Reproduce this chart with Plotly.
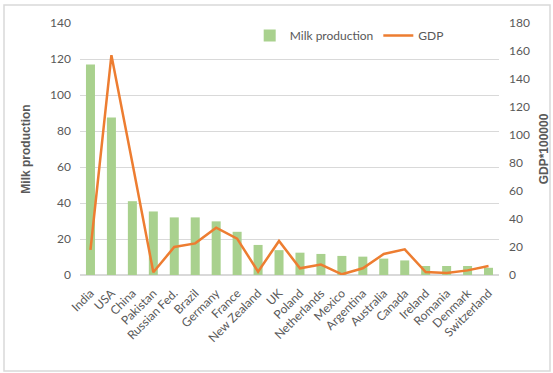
import plotly.graph_objects as go

countries = ["India", "USA", "China", "Pakistan", "Russian Fed.", "Brazil", "Germany",
             "France", "New Zealand", "UK", "Poland", "Netherlands", "Mexico", "Argentina",
             "Australia", "Canada", "Ireland", "Romania", "Denmark", "Switzerland"]
milk = [117, 87.5, 41, 35.3, 32, 32, 29.8, 24, 16.7, 13.8, 12.4, 11.7, 10.6, 10.2,
        9.1, 8.1, 5, 5, 5, 4]
gdp = [18, 157, 80, 2, 20, 22.6, 33.8, 26, 2.4, 24.3, 4.8, 7.4, 0.5, 4.8,
       15, 18.3, 2.1, 1.4, 3.3, 6.4]

left_ticks = list(range(0, 141, 20))
right_ticks = list(range(0, 181, 20))

font_main = "Lato, Open Sans, sans-serif"
font_title = "Liberation Sans, Arial, sans-serif"
grey = "#595959"

fig = go.Figure()
fig.add_trace(go.Bar(
    x=countries, y=milk, name="Milk production",
    marker=dict(color="#A9D18E", line=dict(width=0)),
    yaxis="y",
))
fig.add_trace(go.Scatter(
    x=countries, y=gdp, name="GDP", mode="lines",
    line=dict(color="#ED7D31", width=2.5),
    yaxis="y2",
))

fig.update_layout(
    width=553, height=373,
    margin=dict(l=80, r=54, t=23, b=98),
    paper_bgcolor="white", plot_bgcolor="white",
    font=dict(family=font_main, size=12, color=grey),
    bargap=0.57,
    showlegend=True,
    legend=dict(
        orientation="h", x=0.405, y=0.95, xanchor="left", yanchor="middle",
        bgcolor="rgba(0,0,0,0)", font=dict(family=font_main, size=12, color=grey),
        itemwidth=30, tracegroupgap=0,
    ),
    xaxis=dict(
        tickangle=-45, showgrid=False, showline=False, ticks="",
        tickfont=dict(family=font_main, size=12, color=grey), automargin=False,
        ticklabelstandoff=8,
    ),
    yaxis=dict(
        range=[0, 140], tickvals=left_ticks, showgrid=True, gridcolor="#D9D9D9",
        gridwidth=1, zeroline=True, zerolinecolor="#D9D9D9", showline=False,
        ticks="", tickfont=dict(family=font_main, size=12, color=grey),
        ticklabelstandoff=8,
        title=dict(text="<b>Milk production</b>", standoff=16,
                   font=dict(family=font_title, size=12, color=grey)),
        automargin=False,
    ),
    yaxis2=dict(
        range=[0, 180], tickvals=right_ticks, overlaying="y", side="right",
        showgrid=False, zeroline=False, showline=False, ticks="",
        tickfont=dict(family=font_main, size=12, color=grey),
        ticklabelstandoff=9,
        title=dict(text="<b>GDP*100000</b>", standoff=10,
                   font=dict(family=font_title, size=12, color=grey)),
        automargin=False,
    ),
    shapes=[dict(
        type="rect", xref="paper", yref="paper",
        x0=-76 / 419, x1=(550 - 80) / 419, y0=-96 / 252, y1=(275 - 5) / 252,
        line=dict(color="#D9D9D9", width=1.5), fillcolor="rgba(0,0,0,0)",
    )],
)

fig.write_html("out.html")
